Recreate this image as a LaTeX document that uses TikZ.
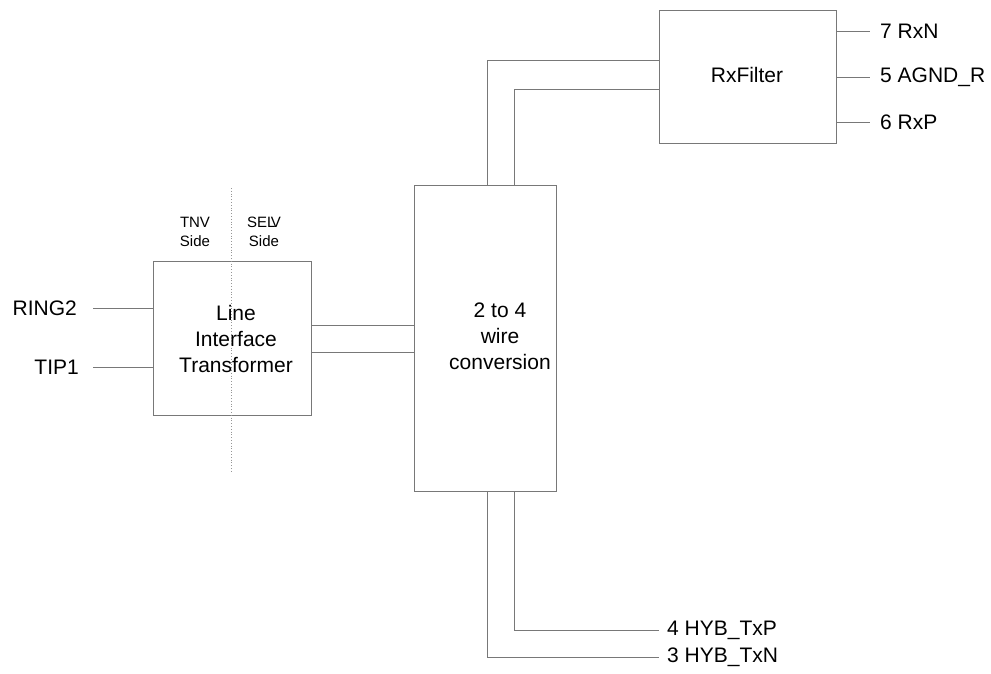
\documentclass[tikz,border=0pt]{standalone}
\usepackage{fontspec}
\setmainfont{Liberation Sans}
\usepackage{tikz}
\usetikzlibrary{positioning,calc}
\usepackage{xcolor}
\definecolor{wire}{RGB}{120,120,120}
\definecolor{sep}{RGB}{150,150,150}

\begin{document}
\begin{tikzpicture}[x=1pt,y=-1pt,
  blk/.style={draw=wire,line width=0.9pt,inner sep=0pt},
  lbl/.style={inner sep=0pt,font=\fontsize{21}{25}\selectfont},
  txt/.style={inner sep=0pt,align=center,font=\fontsize{21}{26}\selectfont},
  side/.style={inner sep=0pt,align=center,font=\fontsize{15}{19}\selectfont},
  con/.style={draw=wire,line width=0.8pt}]
\useasboundingbox (0,0) rectangle (991,673);
% blocks
\node[blk,minimum width=158pt,minimum height=154pt] (lit) at (232,338) {};
\node[blk,minimum width=142pt,minimum height=306pt] (conv) at (485,338) {};
\node[blk,minimum width=177pt,minimum height=133pt] (rxf) at (747.5,76.5) {};
\node[txt] (littext) at (236,339) {Line\\Interface\\Transformer};
\node[txt] (convtext) at (500,336) {2 to 4\\wire\\conversion};
\node[txt] (rxftext) at (747,75) {RxFilter};
% isolation barrier
\draw[sep,dotted,line width=0.8pt] (231,188) -- (231,473);
\node[side] (tnv) at (195,232) {TNV\\Side};
\node[side] (selv) at (264,232) {SEL\kern-.32em V\\Side};
% line side
\coordinate (ring) at (93,308);
\coordinate (tip) at (93,367);
\node[lbl,left=16pt of ring] (ringlbl) {RING2};
\node[lbl,left=14pt of tip] (tiplbl) {TIP1};
\draw[con] (ring) -- (ring -| lit.west);
\draw[con] (tip) -- (tip -| lit.west);
% transformer to hybrid
\draw[con] ([yshift=13pt]lit.east) -- ([yshift=13pt]lit.east -| conv.west);
\draw[con] ([yshift=-14pt]lit.east) -- ([yshift=-14pt]lit.east -| conv.west);
% hybrid to filter
\draw[con] ([xshift=2pt]conv.north) |- ([yshift=16pt]rxf.west);
\draw[con] ([xshift=29pt]conv.north) |- ([yshift=-12.5pt]rxf.west);
% filter outputs
\coordinate (rxn) at (870,31);
\coordinate (agnd) at (870,77);
\coordinate (rxp) at (870,122);
\draw[con] (rxf.east |- rxn) -- (rxn);
\draw[con] (rxf.east |- agnd) -- (agnd);
\draw[con] (rxf.east |- rxp) -- (rxp);
\node[lbl,right=10pt of rxn] (rxnlbl) {7 RxN};
\node[lbl,right=10pt of agnd] (agndlbl) {5 AGND\_R};
\node[lbl,right=10pt of rxp] (rxplbl) {6 RxP};
% transmit side
\coordinate (txp) at (659,630);
\coordinate (txn) at (659,657);
\draw[con] ([xshift=29pt]conv.south) |- (txp);
\draw[con] ([xshift=2pt]conv.south) |- (txn);
\node[lbl,right=8pt of txp] (txplbl) {4 HYB\_TxP};
\node[lbl,right=8pt of txn] (txnlbl) {3 HYB\_TxN};
\end{tikzpicture}
\end{document}
